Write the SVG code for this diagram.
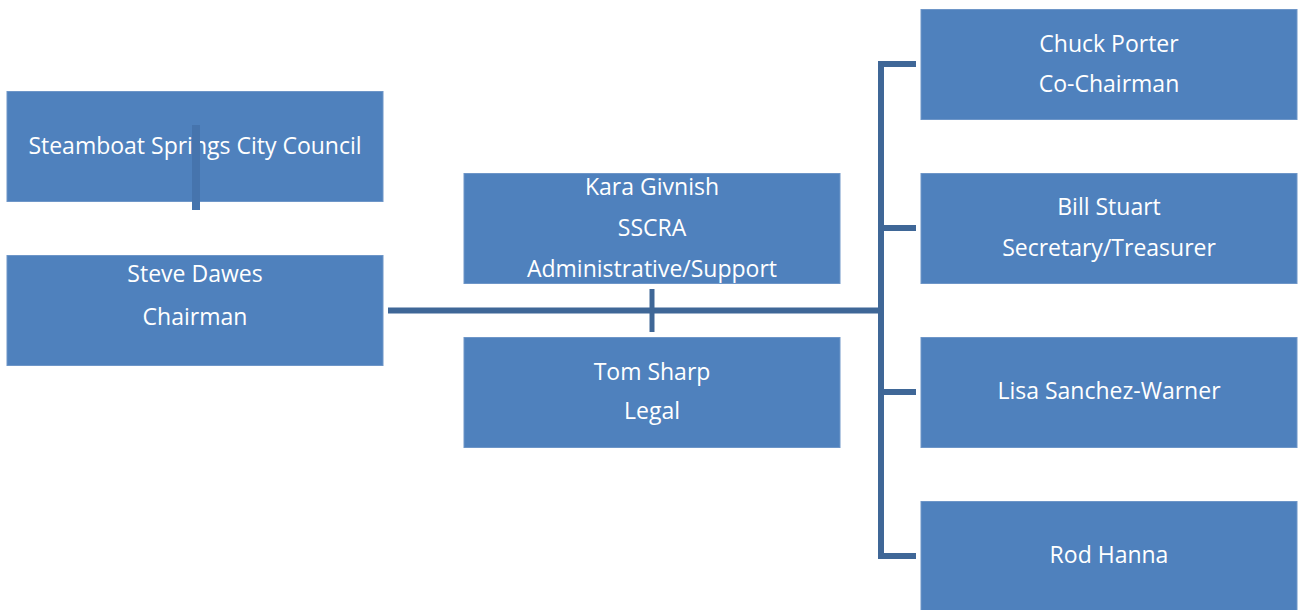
<svg xmlns="http://www.w3.org/2000/svg" width="1303" height="610" viewBox="0 0 1303 610">
<style>
.box{fill:#4F81BD;stroke:#6E96C8;stroke-width:1}
.t{font-family:"Open Sans","Liberation Sans",sans-serif;font-size:23px;fill:#FFFFFF;text-anchor:middle}
.c{stroke:#3F6797;stroke-width:6;fill:none}
.c2{stroke:#4674AD;stroke-width:8;fill:none}
</style>
<rect width="1303" height="610" fill="#FFFFFF"/>
<g id="node-council">
<rect class="box" x="7" y="91.500" width="376" height="110"/>
<text class="t" x="195" y="154">Steamboat Springs City Council</text>
</g>
<g id="node-dawes">
<rect class="box" x="7" y="255.500" width="376" height="110"/>
<text class="t" x="195" y="282">Steve Dawes</text>
<text class="t" x="195" y="325">Chairman</text>
</g>
<g id="node-givnish">
<rect class="box" x="464" y="173.500" width="376" height="110"/>
<text class="t" x="652" y="195">Kara Givnish</text>
<text class="t" x="652" y="236">SSCRA</text>
<text class="t" x="652" y="277">Administrative/Support</text>
</g>
<g id="node-sharp">
<rect class="box" x="464" y="337.500" width="376" height="110"/>
<text class="t" x="652" y="380">Tom Sharp</text>
<text class="t" x="652" y="419">Legal</text>
</g>
<g id="node-porter">
<rect class="box" x="921" y="9.500" width="376" height="110"/>
<text class="t" x="1109" y="52">Chuck Porter</text>
<text class="t" x="1109" y="92">Co-Chairman</text>
</g>
<g id="node-stuart">
<rect class="box" x="921" y="173.500" width="376" height="110"/>
<text class="t" x="1109" y="215">Bill Stuart</text>
<text class="t" x="1109" y="256">Secretary/Treasurer</text>
</g>
<g id="node-sanchez">
<rect class="box" x="921" y="337.500" width="376" height="110"/>
<text class="t" x="1109" y="399">Lisa Sanchez-Warner</text>
</g>
<g id="node-hanna">
<rect class="box" x="921" y="501.500" width="376" height="115"/>
<text class="t" x="1109" y="563">Rod Hanna</text>
</g>
<g id="connectors">
<line class="c2" x1="196" y1="125" x2="196" y2="210"/>
<line class="c" x1="388" y1="310.500" x2="881" y2="310.500"/>
<line class="c" x1="652" y1="289" x2="652" y2="332" style="stroke-width:5"/>
<path class="c" d="M916 64 H881 V556 H916"/>
<line class="c" x1="881" y1="228" x2="916" y2="228"/>
<line class="c" x1="881" y1="392" x2="916" y2="392"/>
</g>
</svg>
